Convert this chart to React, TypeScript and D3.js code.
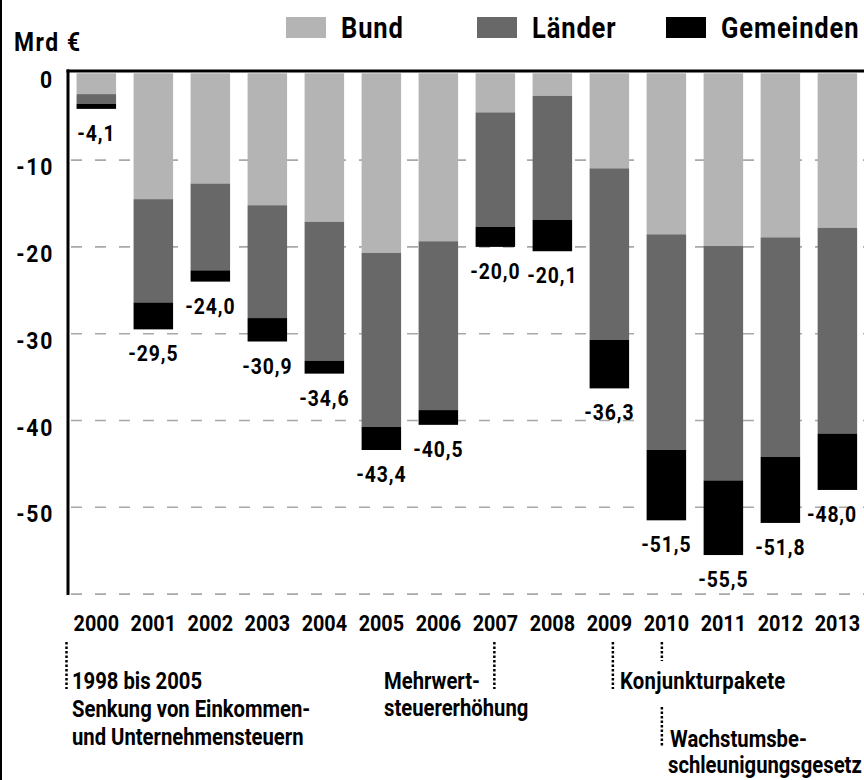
import React from 'react';
import * as d3 from 'd3';

const years = ['2000','2001','2002','2003','2004','2005','2006','2007','2008','2009','2010','2011','2012','2013'];
const bund = [2.4, 14.5, 12.7, 15.2, 17.1, 20.7, 19.35, 4.5, 2.6, 10.95, 18.55, 19.9, 18.9, 17.8];
const laender = [1.1, 11.9, 10.0, 13.0, 16.0, 20.05, 19.45, 13.2, 14.3, 19.75, 24.85, 27.0, 25.3, 23.7];
const gemeinden = [0.6, 3.1, 1.3, 2.7, 1.5, 2.65, 1.7, 2.3, 3.6, 5.6, 8.1, 8.6, 7.6, 6.5];
const totalLabels = ['-4,1','-29,5','-24,0','-30,9','-34,6','-43,4','-40,5','-20,0','-20,1','-36,3','-51,5','-55,5','-51,8','-48,0'];
const yTicks = [0, -10, -20, -30, -40, -50];
const gridValues = [-10, -20, -30, -40, -50, -60];
const seriesNames = ['Bund', 'Länder', 'Gemeinden'];
const seriesColors = ['#b4b4b4', '#686868', '#000000'];

const W = 864;
const H = 780;
const FONT = 'Roboto, "Noto Sans", sans-serif';
const SX = 0.88;

type TxtProps = { x: number; y: number; size: number; anchor?: 'start' | 'middle' | 'end'; ls?: number; children: React.ReactNode };
function Txt({ x, y, size, anchor = 'start', ls = 0, children }: TxtProps) {
  return (
    <text transform={`translate(${x},${y}) scale(${SX},1)`} textAnchor={anchor} fontSize={size}
      fontFamily={FONT} fontWeight={700} letterSpacing={ls} fill="#000">{children}</text>
  );
}

export default function App() {
  const keys = ['b', 'l', 'g'];
  const rows = years.map((yr, i) => ({ year: yr, b: -bund[i], l: -laender[i], g: -gemeinden[i] }));
  const stack = d3.stack<any>().keys(keys).offset(d3.stackOffsetDiverging).order(d3.stackOrderNone);
  const series = stack(rows);

  const x = d3.scaleBand<string>().domain(years).range([67.85, 67.85 + 14 * 57]).paddingInner(0.307).paddingOuter(0.153);
  const y = d3.scaleLinear().domain([0, -60]).range([73.3, 594.1]);
  const axisX = 68;
  const cx = (yr: string) => (x(yr) as number) + x.bandwidth() / 2;

  const bottoms = rows.map((_, i) => d3.min(series, s => s[i][0]) as number);

  const legendX = [286, 477, 666];
  const dotted = { stroke: '#000', strokeWidth: 2.5, strokeDasharray: '2.5 2' };

  return (
    <svg width={W} height={H} style={{ position: 'absolute', left: 0, top: 0, background: '#fff' }}>
      <rect x={0} y={0} width={W} height={H} fill="#fff" />
      <rect x={0} y={0} width={2} height={H} fill="#000" />

      {/* legend */}
      {seriesNames.map((n, i) => (
        <g key={n}>
          <rect x={legendX[i]} y={17} width={40} height={21} fill={seriesColors[i]} />
          <Txt x={legendX[i] + 55} y={38} size={29} ls={1}>{n}</Txt>
        </g>
      ))}
      <Txt x={14} y={51} size={26} ls={1.8}>Mrd €</Txt>

      {/* grid */}
      {gridValues.map(v => (
        <line key={v} x1={axisX} x2={W} y1={y(v)} y2={y(v)} stroke="#a8a8a8" strokeWidth={1.6} strokeDasharray="11 13" strokeDashoffset={-3} />
      ))}

      {/* bars */}
      {series.map((s, si) => (
        <g key={si} fill={seriesColors[si]}>
          {s.map((d, i) => (
            <rect key={i} x={x(years[i])} width={x.bandwidth()} y={y(d[1])} height={y(d[0]) - y(d[1])} />
          ))}
        </g>
      ))}

      {/* axes */}
      <line x1={axisX} x2={axisX} y1={69.5} y2={595} stroke="#000" strokeWidth={3} />
      <line x1={axisX - 1.5} x2={W} y1={71} y2={71} stroke="#000" strokeWidth={3} />

      {yTicks.map(v => (
        <Txt key={v} x={54} y={y(v) + 15} anchor="end" size={24} ls={2}>{v}</Txt>
      ))}

      {/* value labels */}
      {years.map((yr, i) => {
        const bottom = y(bottoms[i]);
        const c = cx(yr);
        const overflow = c + 26 > W - 4;
        return (
          <Txt key={yr} x={overflow ? W - 7 : c} y={bottom + 32} anchor={overflow ? 'end' : 'middle'} size={22} ls={1}>{totalLabels[i]}</Txt>
        );
      })}

      {/* year labels */}
      {years.map(yr => (
        <Txt key={yr} x={cx(yr)} y={631} anchor="middle" size={22.5}>{yr}</Txt>
      ))}

      {/* annotations */}
      <line x1={66.5} x2={66.5} y1={642} y2={689} {...dotted} />
      <Txt x={72} y={689} size={23}>1998 bis 2005</Txt>
      <Txt x={72} y={717} size={23}>Senkung von Einkommen-</Txt>
      <Txt x={72} y={745} size={23}>und Unternehmensteuern</Txt>

      <line x1={cx('2007') - 1} x2={cx('2007') - 1} y1={642} y2={689} {...dotted} />
      <Txt x={384} y={689} size={23}>Mehrwert-</Txt>
      <Txt x={384} y={716} size={23}>steuererhöhung</Txt>

      <line x1={cx('2009') + 3.5} x2={cx('2009') + 3.5} y1={642} y2={689} {...dotted} />
      <line x1={cx('2010') - 4.5} x2={cx('2010') - 4.5} y1={642} y2={661} {...dotted} />
      <Txt x={620} y={689} size={23} ls={0.3}>Konjunkturpakete</Txt>

      <line x1={cx('2010') - 4.5} x2={cx('2010') - 4.5} y1={707} y2={747} {...dotted} />
      <Txt x={670} y={747} size={23}>Wachstumsbe-</Txt>
      <Txt x={668} y={773} size={23}>schleunigungsgesetz</Txt>
    </svg>
  );
}
